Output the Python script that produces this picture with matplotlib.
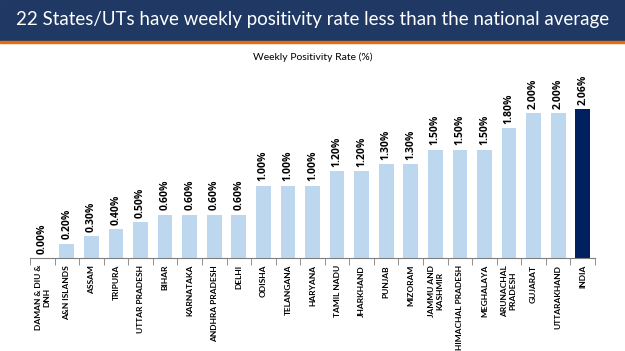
import matplotlib.pyplot as plt
from matplotlib.patches import Rectangle

states = ['DAMAN & DIU &\nDNH', 'A&N ISLANDS', 'ASSAM', 'TRIPURA', 'UTTAR PRADESH',
          'BIHAR', 'KARNATAKA', 'ANDHRA PRADESH', 'DELHI', 'ODISHA', 'TELANGANA',
          'HARYANA', 'TAMIL NADU', 'JHARKHAND', 'PUNJAB', 'MIZORAM', 'JAMMU AND\nKASHMIR',
          'HIMACHAL PRADESH', 'MEGHALAYA', 'ARUNACHAL\nPRADESH', 'GUJARAT',
          'UTTARAKHAND', 'INDIA']
rates = [0.00, 0.20, 0.30, 0.40, 0.50, 0.60, 0.60, 0.60, 0.60, 1.00, 1.00, 1.00,
         1.20, 1.20, 1.30, 1.30, 1.50, 1.50, 1.50, 1.80, 2.00, 2.00, 2.06]

light = '#BDD7EE'
dark = '#002060'
colors = [light] * (len(rates) - 1) + [dark]

fig = plt.figure(figsize=(6.25, 3.51), dpi=100)

# title banner
fig.patches.append(Rectangle((0, 1 - 41 / 351), 1, 41 / 351, transform=fig.transFigure,
                             color='#1F3864', zorder=0))
fig.patches.append(Rectangle((0, 1 - 43 / 351), 1, 2 / 351, transform=fig.transFigure,
                             color='#E46C0A', zorder=0))
fig.text(0.5, 1 - 20 / 351, '22 States/UTs have weekly positivity rate less than the national average',
         ha='center', va='center', color='white', fontsize=13.5, family='Lato')
fig.text(0.5, 1 - 57 / 351, 'Weekly Positivity Rate (%)', ha='center', va='center',
         fontsize=7.5, family='Lato')

ax = fig.add_axes([30 / 625, 1 - 258 / 351, 565 / 625, 180 / 351])
x = list(range(len(rates)))
ax.bar(x, rates, width=0.6, color=colors)

for xi, r in zip(x, rates):
    ax.text(xi, r + 0.06, f'{r:.2f}%', rotation=90, ha='center', va='bottom',
            fontsize=7.5, fontweight='bold', family='Open Sans')

ax.set_xlim(-0.5, len(rates) - 0.5)
ax.set_ylim(0, 2.49)
ax.set_xticks(x)
ax.set_xticklabels(states, rotation=90, fontsize=6, fontweight='bold', family='Lato',
                   ha='center', va='top', multialignment='center')
ax.set_xticks([i - 0.5 for i in range(len(rates) + 1)], minor=True)
ax.tick_params(axis='x', which='major', length=0, pad=5)
ax.tick_params(axis='x', which='minor', length=5, color='#7F7F7F')
ax.set_yticks([])
for s in ['top', 'right', 'left']:
    ax.spines[s].set_visible(False)
ax.spines['bottom'].set_color('#7F7F7F')

fig.savefig('out.png', dpi=100)
